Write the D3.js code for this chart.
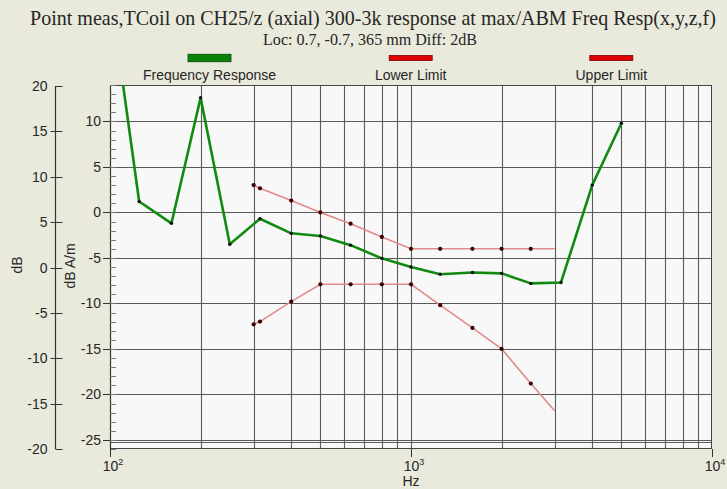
<!DOCTYPE html>
<html>
<head>
<meta charset="utf-8">
<script src="https://cdn.jsdelivr.net/npm/d3@7"></script>
<style>
  html, body { margin: 0; padding: 0; background: #E9E9DC; }
  svg { display: block; }
</style>
</head>
<body>
<svg id="chart" width="727" height="489"></svg>
<script>
// ---------------- DATA ----------------
const titleText = "Point meas,TCoil on CH25/z (axial) 300-3k response at max/ABM Freq Resp(x,y,z,f)";
const subtitleText = "Loc: 0.7, -0.7, 365 mm Diff: 2dB";
const seriesNames = ["Frequency Response", "Lower Limit", "Upper Limit"];

const respFreqs  = [100, 125, 160, 200, 250, 315, 400, 500, 630, 800, 1000, 1250, 1600, 2000, 2500, 3150, 4000, 5000];
const respValues = [24.4, 1.2, -1.2, 12.6, -3.5, -0.7, -2.3, -2.6, -3.6, -5.05, -6.0, -6.8, -6.6, -6.7, -7.8, -7.7, 3.0, 9.8];

const limitFreqs  = [300, 315, 400, 500, 630, 800, 1000, 1250, 1600, 2000, 2500, 3000];
const upperValues = [3.0, 2.65, 1.3, 0.0, -1.24, -2.7, -4.0, -4.0, -4.0, -4.0, -4.0, -4.0];
const lowerValues = [-12.3, -12.0, -9.8, -7.9, -7.9, -7.9, -7.9, -10.2, -12.7, -15.0, -18.8, -21.8];

const innerTicks = [10, 5, 0, -5, -10, -15, -20, -25];
const outerTicks = [20, 15, 10, 5, 0, -5, -10, -15, -20];
const xMajorTicks = [100, 1000, 10000];
const xExponents = ["2", "3", "4"];

// ---------------- LAYOUT ----------------
const svg = d3.select("#chart");
const W = 727, H = 489;
const plot = { left: 110, right: 712, top: 85, bottom: 449 };
const BG = "#E9E9DC";
const FONT = "'Liberation Sans', Arial, sans-serif";
const SERIF = "'Liberation Serif', 'Times New Roman', serif";
const TXT = "#262626";
const GRID = "#5a5a5a";

svg.append("rect").attr("width", W).attr("height", H).attr("fill", BG);

const x = d3.scaleLog().domain([100, 10000]).range([plot.left, plot.right]);
const yIn = d3.scaleLinear().domain([-26, 14]).range([plot.bottom, plot.top]);
const yOut = d3.scaleLinear().domain([-20, 20]).range([plot.bottom, plot.top + 1]);

// Title
function fitText(sel, width, base) {
  const len = sel.node().getComputedTextLength();
  sel.attr("font-size", base * width / len);
}
const t1 = svg.append("text").attr("x", 373).attr("y", 25)
  .attr("text-anchor", "middle").attr("font-family", SERIF).attr("font-size", 20)
  .attr("fill", TXT).text(titleText);
fitText(t1, 686, 20);
const t2 = svg.append("text").attr("x", 370).attr("y", 45)
  .attr("text-anchor", "middle").attr("font-family", SERIF).attr("font-size", 13)
  .attr("fill", TXT).text(subtitleText);
fitText(t2, 214, 13);

// Legend
const legendCx = [209.5, 410.7, 611.3];
const legendFill = ["#0A820A", "#E00000", "#E00000"];
const legendStroke = ["#004a00", "#7a0000", "#7a0000"];
const legendH = [7.5, 5, 5];
seriesNames.forEach((name, i) => {
  svg.append("rect")
    .attr("x", legendCx[i] - 21.5).attr("y", 58 - legendH[i] / 2)
    .attr("width", 43).attr("height", legendH[i])
    .attr("fill", legendFill[i]).attr("stroke", legendStroke[i]).attr("stroke-width", 0.8);
  svg.append("text").attr("x", legendCx[i]).attr("y", 80)
    .attr("text-anchor", "middle").attr("font-family", FONT).attr("font-size", 14)
    .attr("fill", TXT).text(name);
});

// Plot background
svg.append("rect").attr("x", plot.left).attr("y", plot.top)
  .attr("width", plot.right - plot.left).attr("height", plot.bottom - plot.top)
  .attr("fill", "#F8F8F8");

// Vertical grid lines (log)
const xGrid = [];
[100, 1000].forEach(dec => { for (let k = 1; k <= 9; k++) xGrid.push(dec * k); });
const g = svg.append("g");
g.selectAll(".vg").data(xGrid.filter(d => d > 100)).join("line")
  .attr("x1", d => Math.round(x(d)) + 0.5).attr("x2", d => Math.round(x(d)) + 0.5)
  .attr("y1", plot.top).attr("y2", plot.bottom)
  .attr("stroke", GRID).attr("stroke-width", 1.1);

// Horizontal grid lines
g.selectAll(".hg").data(innerTicks).join("line")
  .attr("x1", plot.left).attr("x2", plot.right)
  .attr("y1", d => Math.round(yIn(d)) + 0.5).attr("y2", d => Math.round(yIn(d)) + 0.5)
  .attr("stroke", GRID).attr("stroke-width", 1.1);
// double line at bottom grid
g.append("line").attr("x1", plot.left).attr("x2", plot.right)
  .attr("y1", Math.round(yIn(-25)) + 2.5).attr("y2", Math.round(yIn(-25)) + 2.5)
  .attr("stroke", GRID).attr("stroke-width", 1);

// Plot frame
svg.append("rect").attr("x", plot.left + 0.5).attr("y", plot.top + 0.5)
  .attr("width", plot.right - plot.left - 1).attr("height", plot.bottom - plot.top - 1)
  .attr("fill", "none").attr("stroke", "#444").attr("stroke-width", 1);

// Inner y axis (dB A/m)
const inner = svg.append("g");
inner.append("line").attr("x1", plot.left + 0.5).attr("x2", plot.left + 0.5)
  .attr("y1", plot.top).attr("y2", plot.bottom).attr("stroke", "#333").attr("stroke-width", 1.2);
inner.selectAll(".mj").data(innerTicks).join("line")
  .attr("x1", plot.left - 7).attr("x2", plot.left)
  .attr("y1", d => Math.round(yIn(d)) + 0.5).attr("y2", d => Math.round(yIn(d)) + 0.5)
  .attr("stroke", "#333");
inner.selectAll(".mn").data(d3.range(-26, 15, 1)).join("line")
  .attr("x1", plot.left).attr("x2", plot.left + 6)
  .attr("y1", d => Math.round(yIn(d)) + 0.5).attr("y2", d => Math.round(yIn(d)) + 0.5)
  .attr("stroke", "#777");
inner.selectAll(".lb").data(innerTicks).join("text")
  .attr("x", plot.left - 9).attr("y", d => yIn(d) + 5)
  .attr("text-anchor", "end").attr("font-family", FONT).attr("font-size", 14)
  .attr("fill", TXT).text(d => d);

// Outer y axis (dB)
const ox = 55.5;
const outer = svg.append("g");
outer.append("line").attr("x1", ox).attr("x2", ox)
  .attr("y1", yOut(20)).attr("y2", yOut(-20)).attr("stroke", "#333").attr("stroke-width", 1.2);
outer.selectAll(".ot").data(outerTicks).join("line")
  .attr("x1", d => (d === 20 || d === -20) ? ox : ox - 5).attr("x2", ox + 7)
  .attr("y1", d => Math.round(yOut(d)) + 0.5).attr("y2", d => Math.round(yOut(d)) + 0.5)
  .attr("stroke", "#333");
outer.selectAll(".ol").data(outerTicks).join("text")
  .attr("x", ox - 8).attr("y", d => yOut(d) + 5)
  .attr("text-anchor", "end").attr("font-family", FONT).attr("font-size", 14)
  .attr("fill", TXT).text(d => d);

// Axis titles
svg.append("text").attr("transform", "translate(22,265) rotate(-90)")
  .attr("text-anchor", "middle").attr("font-family", FONT).attr("font-size", 14)
  .attr("fill", TXT).text("dB");
svg.append("text").attr("transform", "translate(75,266) rotate(-90)")
  .attr("text-anchor", "middle").attr("font-family", FONT).attr("font-size", 14)
  .attr("fill", TXT).text("dB A/m");

// X axis ticks and labels
const xa = svg.append("g");
xa.selectAll(".xt").data(xMajorTicks).join("line")
  .attr("x1", d => Math.round(x(d)) + 0.5).attr("x2", d => Math.round(x(d)) + 0.5)
  .attr("y1", plot.bottom).attr("y2", plot.bottom + 8)
  .attr("stroke", "#333");
xMajorTicks.forEach((d, i) => {
  const t = xa.append("text").attr("x", x(d) + 3).attr("y", 471)
    .attr("text-anchor", "middle").attr("font-family", FONT).attr("font-size", 14)
    .attr("fill", TXT);
  t.append("tspan").text("10");
  t.append("tspan").attr("dy", -6).attr("font-size", 9).text(xExponents[i]);
});
svg.append("text").attr("x", x(1000)).attr("y", 486)
  .attr("text-anchor", "middle").attr("font-family", FONT).attr("font-size", 14)
  .attr("fill", TXT).text("Hz");

// Clip
svg.append("defs").append("clipPath").attr("id", "clip")
  .append("rect").attr("x", plot.left).attr("y", plot.top)
  .attr("width", plot.right - plot.left).attr("height", plot.bottom - plot.top);

const marks = svg.append("g").attr("clip-path", "url(#clip)");
const line = d3.line().x(d => x(d[0])).y(d => yIn(d[1]));

const upper = limitFreqs.map((f, i) => [f, upperValues[i]]);
const lower = limitFreqs.map((f, i) => [f, lowerValues[i]]);
const resp = respFreqs.map((f, i) => [f, respValues[i]]);

[lower, upper].forEach(data => {
  marks.append("path").datum(data).attr("d", line)
    .attr("fill", "none").attr("stroke", "#E08A8A").attr("stroke-width", 1.6);
  marks.selectAll(null).data(data.slice(0, -1)).join("circle")
    .attr("cx", d => x(d[0])).attr("cy", d => yIn(d[1])).attr("r", 2.1)
    .attr("fill", "#3a0000");
});

marks.append("path").datum(resp).attr("d", line)
  .attr("fill", "none").attr("stroke", "#108A10").attr("stroke-width", 2.6)
  .attr("stroke-linejoin", "round");
marks.selectAll(".rd").data(resp).join("circle")
  .attr("cx", d => x(d[0])).attr("cy", d => yIn(d[1])).attr("r", 1.7)
  .attr("fill", "#111");
</script>
</body>
</html>
